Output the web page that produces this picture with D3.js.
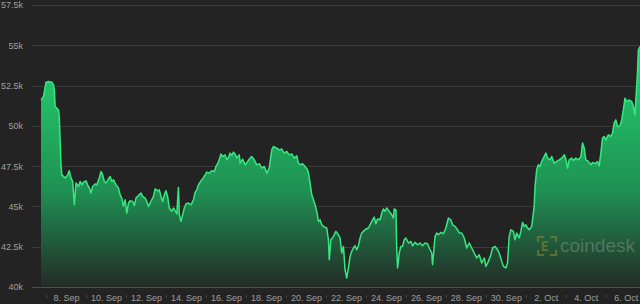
<!DOCTYPE html>
<html>
<head>
<meta charset="utf-8">
<script src="https://cdn.jsdelivr.net/npm/d3@7"></script>
<style>
  html, body { margin: 0; padding: 0; background: #232323; }
  svg { display: block; }
  text { font-family: "Liberation Sans", Arial, sans-serif; }
</style>
</head>
<body>
<div id="chart"></div>
<script>
// BTC price. Hours counted from 6 Sep 2021 00:00 UTC.
const startDate = Date.UTC(2021, 8, 6);
const hours = [
  18, 21, 24, 27, 31, 33, 34, 35, 39, 40, 42, 43, 47, 50, 52, 54, 56, 58, 60, 63,
  65, 67, 69, 72, 74, 76, 78, 80, 83, 85, 88, 90, 92, 94, 96, 99, 101, 103, 105, 108,
  111, 113, 115, 117, 119, 121, 123, 125, 128, 130, 132, 135, 138, 140, 143, 145, 147, 150, 153, 155,
  158, 160, 162, 164, 166, 168, 170, 172, 175, 177, 179, 181, 183, 184, 186, 188, 190, 192, 195, 198,
  201, 203, 205, 207, 210, 212, 215, 217, 220, 223, 226, 228, 231, 234, 236, 239, 241, 243, 245, 247,
  249, 251, 253, 256, 257, 260, 263, 266, 269, 271, 274, 277, 280, 283, 286, 289, 292, 295, 297, 301,
  304, 307, 310, 313, 316, 319, 322, 325, 327, 330, 332, 335, 338, 339, 341, 343, 345, 347, 349, 351,
  353, 355, 358, 361, 363, 364, 366, 369, 372, 375, 377, 379, 381, 383, 385, 387, 389, 391, 393, 395,
  397, 399, 401, 403, 405, 408, 411, 413, 416, 418, 420, 422, 425, 427, 429, 431, 433, 436, 439, 441,
  442, 444, 445, 446, 448, 450, 452, 454, 456, 459, 462, 464, 467, 470, 473, 476, 479, 482, 484, 487,
  488, 491, 493, 495, 498, 501, 504, 507, 510, 512, 515, 518, 520, 523, 526, 529, 532, 535, 538, 541,
  544, 547, 550, 552, 555, 558, 560, 563, 566, 568, 571, 573, 576, 578, 580, 582, 585, 587, 589, 592,
  594, 596, 598, 600, 602, 604, 607, 610, 611, 613, 615, 617, 619, 621, 624, 626, 629, 631, 634, 637,
  640, 643, 646, 648, 650, 652, 655, 657, 660, 663, 666, 668, 670, 672, 675, 678, 680, 683, 686, 688,
  690, 692, 694, 696, 699, 702, 704, 706, 708, 710, 713, 715, 717, 719, 721, 724, 727, 729, 731, 732,
  734, 735, 737
];
const prices = [
  51610, 51820, 52710, 52750, 52710, 52540, 52230, 51200, 50990, 50480, 47580, 46960, 46760, 46960, 47210, 46760, 46550, 45100, 46450, 46240,
  46550, 46340, 46510, 46590, 46340, 46140, 45830, 46240, 46390, 46340, 46760, 47170, 46960, 46550, 46450, 46710, 46860, 46550, 46650, 46340,
  46140, 45720, 45520, 45000, 45410, 44590, 45210, 45350, 45310, 45060, 45520, 45680, 45830, 45620, 45520, 45310, 45000, 45310, 45620, 46090,
  45970, 46030, 45620, 45310, 45720, 45970, 45620, 44900, 44690, 44900, 44730, 44530, 46180, 44480, 44070, 44480, 44900, 45150, 45210, 45100,
  45410, 45890, 46030, 46340, 46590, 46710, 46960, 47130, 47070, 47210, 47170, 47480, 47750, 48250, 48100, 48200, 47890, 48040, 48310, 48160,
  48370, 48250, 48000, 48200, 47690, 47940, 47580, 47790, 48000, 48100, 47890, 47580, 47650, 47380, 47480, 47070, 47380, 48510, 48720, 48620,
  48510, 48560, 48310, 48410, 48200, 48260, 48000, 48140, 47690, 47580, 47650, 47480, 47270, 47070, 46450, 45720, 45410, 45100, 44690, 44070,
  44170, 43860, 43720, 43660, 42930, 41690, 42930, 43140, 43450, 43240, 43040, 42110, 42520, 41070, 40560, 41180, 41900, 42210, 42420, 42560,
  42310, 42560, 43040, 43350, 43450, 43600, 43660, 43860, 44170, 44340, 43920, 44220, 44170, 44590, 44840, 44690, 44900, 44690, 44480, 44280,
  44840, 44790, 42310, 41180, 42110, 42520, 42520, 42930, 43040, 42730, 42830, 42560, 42770, 42620, 42730, 42560, 42730, 42680, 42420, 42110,
  41380, 43140, 43350, 43240, 43390, 43300, 43660, 44280, 44170, 43860, 43760, 43550, 43350, 43350, 43040, 42420, 42730, 42420, 42110, 41800,
  42000, 41490, 41800, 41280, 41590, 42000, 42420, 42520, 42310, 42110, 41590, 41280, 41180, 41490, 43140, 43550, 43450, 42930, 43350, 43040,
  43450, 44010, 43760, 43860, 43660, 43550, 43760, 45000, 46240, 47270, 47580, 47480, 47790, 48000, 48310, 48000, 47890, 48100, 47690, 47790,
  47890, 48000, 48200, 47940, 47380, 47890, 48000, 47850, 48000, 47890, 48060, 48930, 48620, 47890, 47790, 47580, 47730, 47650, 47790, 47520,
  48310, 49240, 49340, 49130, 49440, 49340, 49550, 50170, 50370, 49960, 50000, 50370, 50990, 51720, 51510, 51610, 51510, 51200, 50680, 51610,
  53270, 54710, 54920
];
const yTicks = [40000, 42500, 45000, 47500, 50000, 52500, 55000, 57500];
const xTickDays = ["2021-09-08", "2021-09-10", "2021-09-12", "2021-09-14", "2021-09-16", "2021-09-18",
  "2021-09-20", "2021-09-22", "2021-09-24", "2021-09-26", "2021-09-28", "2021-09-30",
  "2021-10-02", "2021-10-04", "2021-10-06"];
const xMinorDays = ["2021-09-07", "2021-09-09", "2021-09-11", "2021-09-13", "2021-09-15", "2021-09-17",
  "2021-09-19", "2021-09-21", "2021-09-23", "2021-09-25", "2021-09-27", "2021-09-29",
  "2021-10-01", "2021-10-03", "2021-10-05"];

const width = 640, height = 304;
const data = hours.map((h, i) => ({ date: new Date(startDate + h * 3600e3), price: prices[i] }));

const x = d3.scaleUtc()
  .domain(d3.extent(data, d => d.date))
  .range([41, 640]);
const y = d3.scaleLinear()
  .domain([40000, 57500])
  .range([287, 5]);

const svg = d3.select("#chart").append("svg")
  .attr("width", width)
  .attr("height", height);

svg.append("rect")
  .attr("width", width).attr("height", height)
  .attr("fill", "#232323");

const defs = svg.append("defs");
const grad = defs.append("linearGradient")
  .attr("id", "areaFill")
  .attr("gradientUnits", "userSpaceOnUse")
  .attr("x1", 0).attr("x2", 0)
  .attr("y1", y(55000)).attr("y2", y(40000));
grad.append("stop").attr("offset", 0).attr("stop-color", "#25d46f");
grad.append("stop").attr("offset", 0.6).attr("stop-color", "#1f9153");
grad.append("stop").attr("offset", 1).attr("stop-color", "#232b26");

// horizontal grid
svg.append("g")
  .selectAll("line")
  .data(yTicks)
  .join("line")
  .attr("x1", 32).attr("x2", width)
  .attr("y1", d => Math.round(y(d)) + 0.5)
  .attr("y2", d => Math.round(y(d)) + 0.5)
  .attr("stroke", d => d === 40000 ? "#4e4e4e" : "#3a3a3a")
  .attr("stroke-width", 1);

// area + line
const area = d3.area()
  .x(d => x(d.date))
  .y0(y(40000))
  .y1(d => y(d.price));
const line = d3.line()
  .x(d => x(d.date))
  .y(d => y(d.price));

svg.append("path")
  .datum(data)
  .attr("d", area)
  .attr("fill", "url(#areaFill)");

// watermark (drawn under the line)
const logo = svg.append("g").attr("transform", "translate(538,237)").attr("opacity", 0.55);
logo.append("path")
  .attr("d", "M0,5V0H6M12,0H18V5M18,13V18H12M6,18H0V13")
  .attr("fill", "none").attr("stroke", "#8a8a30").attr("stroke-width", 2.2);
logo.append("path")
  .attr("d", "M5,5H10M5,5V13H10M5,9H9")
  .attr("fill", "none").attr("stroke", "#8a8a30").attr("stroke-width", 2.2);
svg.append("text")
  .attr("x", 560).attr("y", 252)
  .attr("font-size", 19)
  .attr("fill", "#9aa59a")
  .attr("opacity", 0.4)
  .text("coindesk");

svg.append("path")
  .datum(data)
  .attr("d", line)
  .attr("fill", "none")
  .attr("stroke", "#36e880")
  .attr("stroke-width", 1.5)
  .attr("stroke-linejoin", "round");

// y axis labels
const yAxis = svg.append("g")
  .attr("transform", "translate(23,0)")
  .call(d3.axisLeft(y).tickValues(yTicks).tickSize(0).tickPadding(0)
    .tickFormat(d => (d / 1000) + "k"));
yAxis.select(".domain").remove();
yAxis.selectAll("text")
  .attr("fill", "#a0a0a0")
  .attr("font-size", 9)
  .attr("font-family", "Liberation Sans, Arial, sans-serif");

// x axis labels
const parse = d3.utcParse("%Y-%m-%d");
const xAxis = svg.append("g")
  .attr("transform", "translate(0,287)")
  .call(d3.axisBottom(x).tickValues(xTickDays.map(parse)).tickSize(0).tickPadding(7.5)
    .tickFormat(d3.utcFormat("%-d. %b")));
xAxis.select(".domain").remove();
xAxis.selectAll("text")
  .attr("fill", "#a0a0a0")
  .attr("font-size", 9)
  .attr("font-family", "Liberation Sans, Arial, sans-serif");

// small marks between labels
const minor = svg.append("g")
  .attr("transform", "translate(0,295)")
  .call(d3.axisBottom(x).tickValues(xMinorDays.map(parse)).tickSize(3).tickFormat(""));
minor.select(".domain").remove();
minor.selectAll("line").attr("stroke", "#4a4a4a");
</script>
</body>
</html>
